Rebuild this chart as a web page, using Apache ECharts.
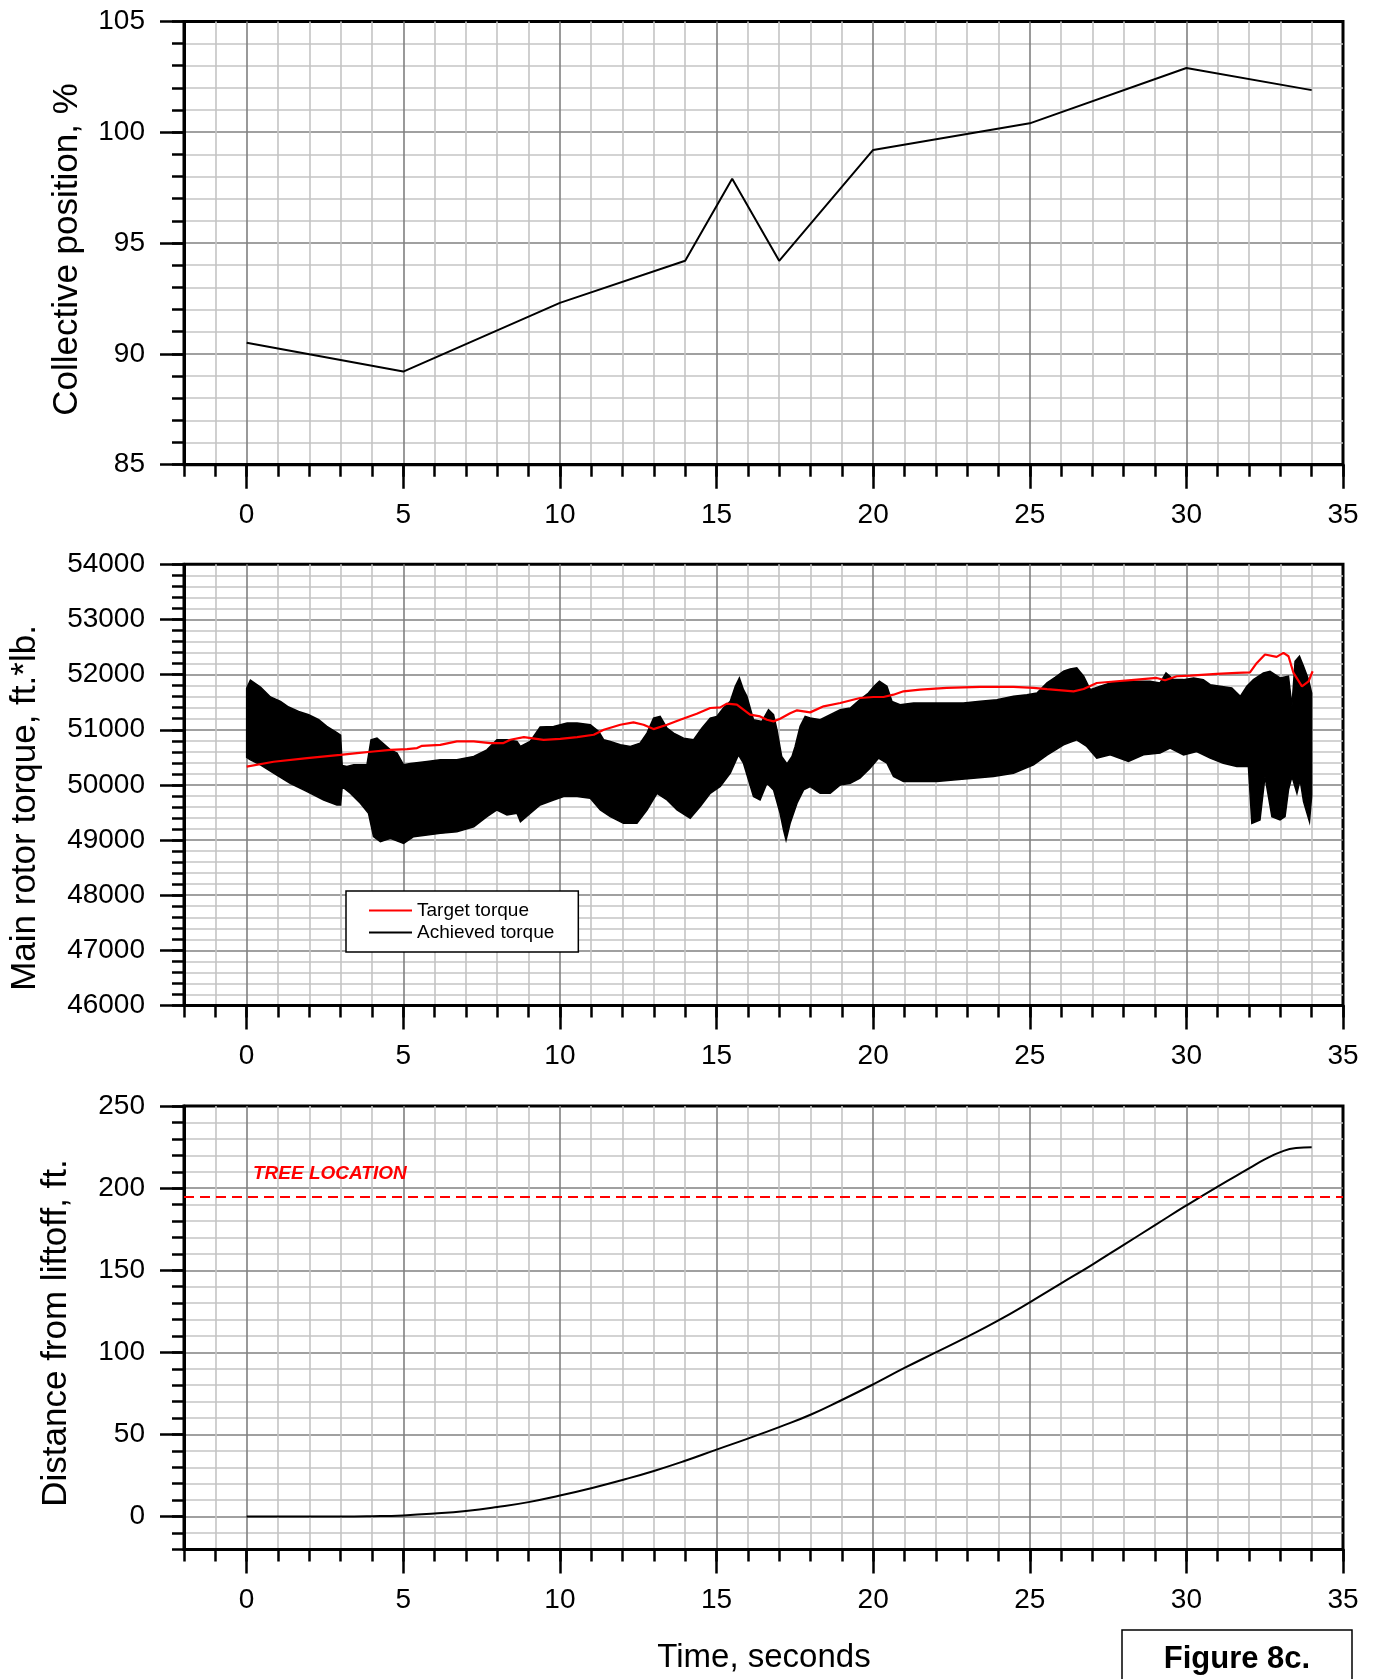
<!DOCTYPE html>
<html>
<head>
<meta charset="utf-8">
<script src="https://cdn.jsdelivr.net/npm/echarts@6/dist/echarts.min.js"></script>
<style>html,body{margin:0;padding:0;background:#fff;}#c{width:1377px;height:1679px;}</style>
</head>
<body>
<div id="c"></div>
<script>
// ---------------- data ----------------
const timeTicks = [0, 5, 10, 15, 20, 25, 30, 35];
const collectiveTicks = [85, 90, 95, 100, 105];
const torqueTicks = [46000, 47000, 48000, 49000, 50000, 51000, 52000, 53000, 54000];
const distanceTicks = [0, 50, 100, 150, 200, 250];

const collectivePosition = [[0, 90.5], [5, 89.2], [10, 92.3], [14, 94.2], [15.5, 97.9], [17, 94.2], [20, 99.2], [25, 100.4], [30, 102.9], [34, 101.9]];

const targetTorque = [
  [0, 50330], [0.86, 50420], [1.93, 50485], [2.99, 50545], [3.52, 50576], [4.05, 50606], [4.59, 50636],
  [5.12, 50650], [5.44, 50667], [5.6, 50709], [6.18, 50727], [6.71, 50788], [7.25, 50788], [7.78, 50758],
  [8.2, 50758], [8.42, 50818], [8.85, 50867], [9.48, 50818], [10.01, 50836], [10.55, 50867], [11.08, 50909],
  [11.4, 50999], [11.93, 51091], [12.35, 51133], [12.67, 51091], [12.99, 51012], [13.42, 51091], [13.84, 51182],
  [14.37, 51291], [14.8, 51394], [15.12, 51406], [15.33, 51473], [15.65, 51455], [15.86, 51364], [16.07, 51273],
  [16.39, 51242], [16.61, 51182], [16.82, 51152], [17.03, 51200], [17.35, 51300], [17.57, 51352], [17.99, 51315],
  [18.42, 51424], [18.95, 51485], [19.58, 51576], [20.01, 51594], [20.33, 51594], [20.65, 51636], [20.97, 51697],
  [21.5, 51727], [22.35, 51758], [23.42, 51776], [24.48, 51776], [25.12, 51758], [25.55, 51735], [26.4, 51697],
  [26.72, 51739], [27.14, 51848], [27.78, 51879], [28.42, 51909], [29.05, 51939], [29.32, 51897], [29.69, 51970],
  [30.12, 51982], [30.97, 52012], [31.61, 52030], [32.03, 52042], [32.25, 52212], [32.51, 52364], [32.88, 52321],
  [33.1, 52394], [33.26, 52333], [33.42, 52030], [33.69, 51788], [33.9, 51879], [34.03, 52061]
];

const achievedUpper = [
  [0, 51750], [0.12, 51900], [0.44, 51775], [0.76, 51594], [1.08, 51515], [1.34, 51412], [1.66, 51333],
  [1.98, 51273], [2.3, 51182], [2.56, 51061], [2.88, 50950], [3.0, 50900], [3.05, 50350], [3.2, 50333],
  [3.42, 50364], [3.84, 50364], [3.97, 50818], [4.16, 50848], [4.59, 50636], [4.8, 50576], [5.01, 50364],
  [5.23, 50390], [5.76, 50424], [6.18, 50455], [6.71, 50455], [7.25, 50515], [7.67, 50636], [7.99, 50818],
  [8.31, 50818], [8.63, 50788], [8.74, 50697], [9.05, 50788], [9.37, 51048], [9.8, 51061], [10.23, 51121],
  [10.55, 51121], [10.97, 51091], [11.24, 50970], [11.4, 50818], [11.61, 50788], [11.93, 50727], [12.25, 50697],
  [12.56, 50758], [12.78, 50939], [12.99, 51212], [13.2, 51242], [13.42, 51030], [13.63, 50939], [13.95, 50848],
  [14.27, 50818], [14.53, 51030], [14.8, 51212], [15.01, 51242], [15.22, 51394], [15.44, 51515], [15.6, 51788],
  [15.73, 51939], [15.86, 51727], [15.97, 51606], [16.18, 51182], [16.45, 51152], [16.66, 51364], [16.82, 51273],
  [16.93, 50999], [17.08, 50515], [17.25, 50380], [17.41, 50515], [17.51, 50697], [17.67, 51061], [17.83, 51242],
  [17.99, 51212], [18.31, 51182], [18.63, 51273], [18.95, 51364], [19.27, 51394], [19.58, 51545], [19.85, 51667],
  [20.03, 51788], [20.2, 51879], [20.44, 51788], [20.6, 51515], [20.86, 51455], [21.29, 51485], [21.82, 51485],
  [22.35, 51485], [22.88, 51485], [23.42, 51515], [23.95, 51545], [24.48, 51606], [24.91, 51636], [25.23, 51667],
  [25.55, 51850], [25.81, 51950], [26.08, 52061], [26.29, 52103], [26.5, 52121], [26.72, 51970], [26.93, 51727],
  [27.25, 51788], [27.57, 51848], [27.99, 51879], [28.42, 51879], [28.84, 51879], [29.16, 51848], [29.35, 52030],
  [29.59, 51909], [29.91, 51909], [30.23, 51939], [30.54, 51909], [30.76, 51818], [31.08, 51788], [31.45, 51758],
  [31.72, 51606], [31.93, 51788], [32.14, 51909], [32.46, 52030], [32.67, 52061], [32.99, 51939], [33.26, 51970],
  [33.37, 51424], [33.47, 52242], [33.61, 52333], [33.74, 52152], [33.9, 51909], [34.0, 51667]
];

const achievedLower = [
  [0, 50500], [0.12, 50455], [0.44, 50364], [0.86, 50212], [1.39, 50030], [1.93, 49879], [2.46, 49727],
  [2.88, 49636], [3.0, 49636], [3.05, 49970], [3.31, 49848], [3.63, 49667], [3.89, 49485], [4.05, 49061],
  [4.27, 48970], [4.59, 49030], [5.01, 48939], [5.33, 49061], [5.76, 49091], [6.18, 49121], [6.71, 49152],
  [7.25, 49242], [7.67, 49424], [7.99, 49545], [8.31, 49455], [8.63, 49485], [8.74, 49333], [9.05, 49485],
  [9.37, 49636], [9.8, 49727], [10.12, 49788], [10.55, 49788], [10.97, 49758], [11.29, 49545], [11.61, 49424],
  [12.03, 49303], [12.46, 49303], [12.78, 49545], [13.1, 49848], [13.42, 49727], [13.74, 49545], [14.16, 49394],
  [14.48, 49606], [14.8, 49848], [15.12, 49970], [15.44, 50212], [15.7, 50545], [15.86, 50394], [16.02, 50091],
  [16.18, 49788], [16.39, 49727], [16.61, 50030], [16.82, 49909], [17.03, 49485], [17.14, 49182], [17.22, 49000],
  [17.35, 49303], [17.57, 49667], [17.78, 49909], [17.99, 49970], [18.31, 49848], [18.63, 49848], [18.95, 50000],
  [19.27, 50030], [19.58, 50121], [19.9, 50303], [20.17, 50485], [20.44, 50394], [20.65, 50152], [20.97, 50061],
  [21.5, 50061], [22.03, 50061], [22.56, 50091], [23.2, 50121], [23.84, 50152], [24.48, 50212], [25.12, 50364],
  [25.55, 50540], [26.08, 50727], [26.5, 50818], [26.82, 50697], [27.14, 50485], [27.57, 50545], [28.15, 50424],
  [28.63, 50545], [29.16, 50576], [29.48, 50667], [29.91, 50545], [30.33, 50606], [30.76, 50485], [31.18, 50394],
  [31.61, 50333], [31.98, 50333], [32.09, 49303], [32.35, 49364], [32.51, 50152], [32.73, 49424], [32.99, 49364],
  [33.15, 49424], [33.26, 49909], [33.37, 50152], [33.53, 49848], [33.63, 50091], [33.74, 49697], [33.93, 49333],
  [34.0, 49800]
];

const distanceFromLiftoff = [
  [0, 0], [1, 0], [2, 0], [3, 0], [4, 0.2], [5, 0.7], [6, 1.8], [7, 3.4], [8, 5.8], [9, 8.8], [10, 12.8],
  [11, 17.3], [12, 22.3], [13, 27.8], [14, 34], [15, 40.8], [16, 47.5], [17, 54.5], [18, 62], [19, 71],
  [20, 80.5], [21, 90.5], [22, 100], [23, 109.5], [24, 119.5], [25, 130.5], [26, 142], [27, 153.5],
  [28, 165.5], [29, 177.5], [30, 189.5], [31, 201], [32, 212], [32.5, 217.5], [33, 222], [33.5, 224.5], [34, 225]
];
const treeLocation = 195;

// ---------------- styling / layout ----------------
const FONT = "'Liberation Sans', Arial, Helvetica, sans-serif";
const L = '#c4c4c4', D = '#808080';
const GRID_LEFT = 184, GRID_W = 1159;
const grids = [
  { left: GRID_LEFT, top: 21.4, width: GRID_W, height: 443.3 },
  { left: GRID_LEFT, top: 564.3, width: GRID_W, height: 441.2 },
  { left: GRID_LEFT, top: 1106.1, width: GRID_W, height: 443.3 }
];
const yDefs = [
  { min: 85, max: 105, interval: 1, ticks: collectiveTicks, colors: [D, L, L, L, L] },
  { min: 46000, max: 54000, interval: 200, ticks: torqueTicks, colors: [D, L, L, L, L] },
  { min: -20, max: 250, interval: 10, ticks: distanceTicks, colors: [L, L, D, L, L] }
];

const xAxis = [], yAxis = [];
grids.forEach((g, i) => {
  xAxis.push({
    type: 'value', gridIndex: i, min: -2, max: 35, interval: 1, position: 'bottom',
    axisLine: { show: false, onZero: false }, axisLabel: { show: false },
    axisTick: { show: true, length: 12, lineStyle: { color: '#000', width: 2.5 } },
    splitLine: { show: true, showMaxLine: false, lineStyle: { color: [L, L, D, L, L], width: 1.6 } }
  });
  xAxis.push({
    type: 'value', gridIndex: i, min: -2, max: 35, position: 'bottom', z: 3,
    axisLine: { show: true, onZero: false, lineStyle: { color: '#000', width: 3 } },
    axisTick: { show: true, customValues: timeTicks, length: 24, lineStyle: { color: '#000', width: 2.5 } },
    axisLabel: { show: true, customValues: timeTicks, margin: 37, color: '#000', fontSize: 28, fontFamily: FONT, formatter: v => String(v) },
    splitLine: { show: false }
  });
  const y = yDefs[i];
  yAxis.push({
    type: 'value', gridIndex: i, min: y.min, max: y.max, interval: y.interval, position: 'left',
    axisLine: { show: false, onZero: false }, axisLabel: { show: false },
    axisTick: { show: true, length: 12, lineStyle: { color: '#000', width: 2.5 } },
    splitLine: { show: true, showMaxLine: false, lineStyle: { color: y.colors, width: 1.6 } }
  });
  yAxis.push({
    type: 'value', gridIndex: i, min: y.min, max: y.max, position: 'left', z: 3,
    axisLine: { show: true, onZero: false, lineStyle: { color: '#000', width: 3 } },
    axisTick: { show: true, customValues: y.ticks, length: 24, lineStyle: { color: '#000', width: 2.5 } },
    axisLabel: { show: true, customValues: y.ticks, margin: 39, color: '#000', fontSize: 28, fontFamily: FONT, formatter: v => String(v) },
    splitLine: { show: false }
  });
});

const achievedPolygon = achievedUpper.concat(achievedLower.slice().reverse());

const option = {
  animation: false,
  backgroundColor: '#fff',
  grid: grids.map(g => Object.assign({ show: true, borderColor: '#000', borderWidth: 3, backgroundColor: 'transparent', containLabel: false, outerBoundsMode: 'none' }, g)),
  xAxis: xAxis,
  yAxis: yAxis,
  legend: {
    show: true, orient: 'vertical', left: 346, top: 891, selectedMode: false,
    padding: [10, 24, 10, 23], itemGap: 3, itemWidth: 43, itemHeight: 2,
    backgroundColor: '#fff', borderColor: '#000', borderWidth: 1.5,
    textStyle: { fontSize: 19, fontFamily: FONT, color: '#000' },
    data: [
      { name: 'Target torque', icon: 'rect', itemStyle: { color: '#ff0000' } },
      { name: 'Achieved torque', icon: 'rect', itemStyle: { color: '#000000' } }
    ]
  },
  series: [
    {
      name: 'Collective position', type: 'line', xAxisIndex: 0, yAxisIndex: 0,
      data: collectivePosition, symbol: 'none', z: 4,
      lineStyle: { color: '#000', width: 2 }
    },
    {
      name: 'Achieved torque', type: 'custom', coordinateSystem: 'cartesian2d', xAxisIndex: 2, yAxisIndex: 2,
      data: achievedPolygon, clip: true, z: 3, itemStyle: { color: '#000' },
      encode: { x: 0, y: 1 },
      renderItem: function (params, api) {
        if (params.dataIndex !== 0) return null;
        const pts = achievedPolygon.map(p => api.coord(p));
        return { type: 'polygon', shape: { points: pts }, style: { fill: '#000', stroke: '#000', lineWidth: 1.5, lineJoin: 'miter' } };
      }
    },
    {
      name: 'Target torque', type: 'line', xAxisIndex: 2, yAxisIndex: 2,
      data: targetTorque, symbol: 'none', z: 4,
      lineStyle: { color: '#ff0000', width: 2.2 }
    },
    {
      name: 'Distance from liftoff', type: 'line', xAxisIndex: 4, yAxisIndex: 4,
      data: distanceFromLiftoff, symbol: 'none', smooth: true, z: 4,
      lineStyle: { color: '#000', width: 2 },
      markLine: {
        silent: true, symbol: 'none', animation: false,
        lineStyle: { color: '#ff0000', type: [10, 6], width: 2 },
        label: {
          show: true, position: 'insideStartTop', formatter: 'TREE LOCATION', distance: 13,
          padding: [0, 0, 0, 56],
          color: '#ff0000', fontSize: 19, fontWeight: 'bold', fontStyle: 'italic', fontFamily: FONT
        },
        data: [{ yAxis: treeLocation }]
      }
    }
  ],
  graphic: [
    { type: 'text', x: 67, y: 249.5, rotation: Math.PI / 2, z: 10,
      style: { text: 'Collective position, %', font: '35px ' + FONT, fill: '#000', textAlign: 'center', textVerticalAlign: 'middle' } },
    { type: 'text', x: 25, y: 808, rotation: Math.PI / 2, z: 10,
      style: { text: 'Main rotor torque, ft.*lb.', font: '35px ' + FONT, fill: '#000', textAlign: 'center', textVerticalAlign: 'middle' } },
    { type: 'text', x: 56, y: 1333, rotation: Math.PI / 2, z: 10,
      style: { text: 'Distance from liftoff, ft.', font: '35px ' + FONT, fill: '#000', textAlign: 'center', textVerticalAlign: 'middle' } },
    { type: 'text', x: 764, y: 1658, z: 10,
      style: { text: 'Time, seconds', font: '33px ' + FONT, fill: '#000', textAlign: 'center', textVerticalAlign: 'middle' } },
    { type: 'rect', x: 1122, y: 1630, z: 10, shape: { width: 230, height: 70 },
      style: { fill: '#fff', stroke: '#000', lineWidth: 1.5 } },
    { type: 'text', x: 1237, y: 1659, z: 11,
      style: { text: 'Figure 8c.', font: 'bold 31px ' + FONT, fill: '#000', textAlign: 'center', textVerticalAlign: 'middle' } }
  ]
};

const chart = echarts.init(document.getElementById('c'), null, { renderer: 'canvas', width: 1377, height: 1679 });
chart.setOption(option);
</script>
</body>
</html>
